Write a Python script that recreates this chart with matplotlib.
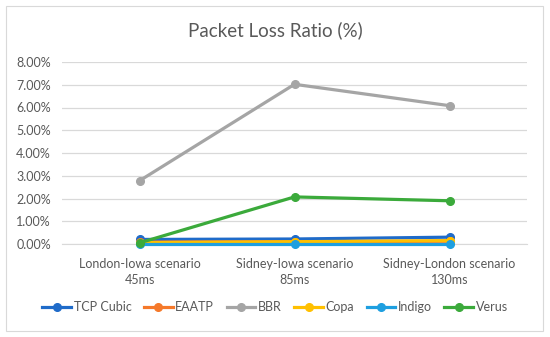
import numpy as np
import matplotlib.pyplot as plt
from matplotlib.patches import Rectangle

plt.rcParams['font.family'] = ['Lato', 'DejaVu Sans']

categories = ['London-Iowa scenario\n45ms', 'Sidney-Iowa scenario\n85ms', 'Sidney-London scenario\n130ms']
series_names = ['TCP Cubic', 'EAATP', 'BBR', 'Copa', 'Indigo', 'Verus']
tcp_cubic = [0.20, 0.22, 0.30]
eaatp = [0.08, 0.10, 0.12]
bbr = [2.78, 7.02, 6.08]
copa = [0.06, 0.10, 0.15]
indigo = [0.00, 0.00, 0.00]
verus = [0.05, 2.07, 1.90]
colors = ['#1F6BC9', '#F5792A', '#A5A5A5', '#FFC000', '#1E9FE0', '#3BAA3B']

fig = plt.figure(figsize=(5.5, 3.37), dpi=100)
fig.patches.append(Rectangle((6 / 550, 1 - 331 / 337), 537 / 550, 325 / 337,
                             transform=fig.transFigure, fill=False,
                             edgecolor='#D9D9D9', linewidth=0.8))

ax = fig.add_axes([62 / 550, 1 - 244 / 337, 465 / 550, 182 / 337])
x = np.arange(len(categories))
for name, vals, c in zip(series_names, [tcp_cubic, eaatp, bbr, copa, indigo, verus], colors):
    ax.plot(x, vals, color=c, lw=2.3, marker='o', ms=5.5, label=name,
            clip_on=False, zorder=3)

ax.set_xlim(-0.5, 2.5)
ax.set_ylim(0, 8)
ax.set_yticks(np.arange(0, 9, 1))
ax.set_yticklabels(['%.2f%%' % v for v in np.arange(0, 9, 1)])
ax.set_xticks(x)
ax.set_xticklabels(categories, linespacing=1.45)
ax.yaxis.grid(True, color='#D9D9D9', lw=0.9)
ax.set_axisbelow(True)
for s in ['top', 'right', 'left']:
    ax.spines[s].set_visible(False)
ax.spines['bottom'].set_color('#D9D9D9')
ax.tick_params(axis='both', length=0, colors='#595959', labelsize=9)
ax.tick_params(axis='x', pad=10)
ax.tick_params(axis='y', pad=8)

fig.text(0.5, 1 - 30 / 337, 'Packet Loss Ratio (%)', ha='center', va='center',
         fontsize=13.5, color='#595959')

fig.legend(loc='center', bbox_to_anchor=(0.5, 1 - 307 / 337), ncol=6,
           frameon=False, fontsize=9, handlelength=2.3, handletextpad=0.2,
           columnspacing=1.0, labelcolor='#595959')

fig.savefig('out.png', dpi=100)
